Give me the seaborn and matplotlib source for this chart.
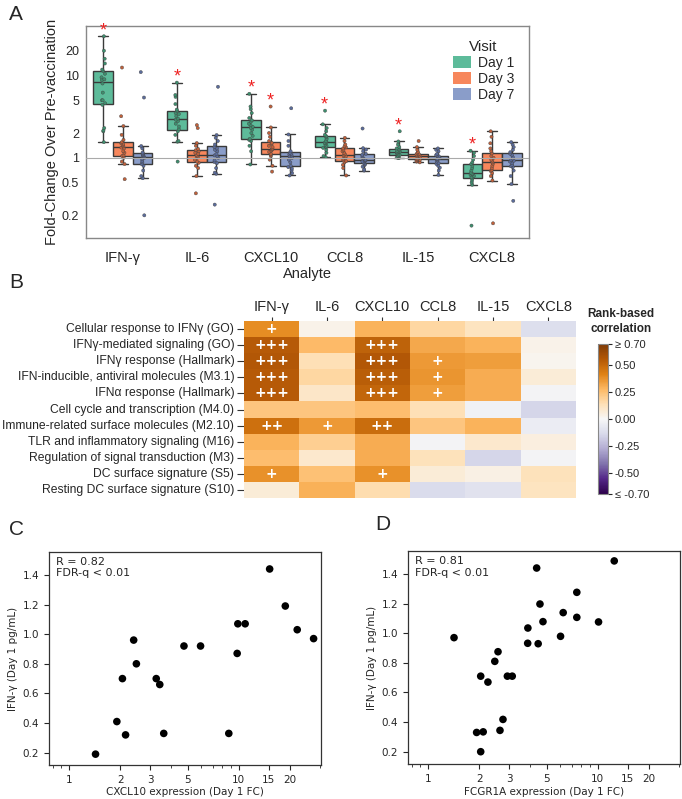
import numpy as np
import pandas as pd
import matplotlib.pyplot as plt
import seaborn as sns
from matplotlib.patches import Patch
from matplotlib.ticker import FixedLocator, FixedFormatter, NullLocator

# ---------------- Panel A: fold-change per subject ----------------
analytes = ["IFN-γ", "IL-6", "CXCL10", "CCL8", "IL-15", "CXCL8"]
visits = ["Day 1", "Day 3", "Day 7"]

ifng_d1 = [1.55, 2.1, 2.15, 2.3, 4.4, 4.6, 5.0, 5.0, 6.2, 8.0, 8.8, 9.0, 9.5, 10.5, 11.4, 11.8, 14.0, 16.0, 20.0, 30.0]
ifng_d3 = [0.55, 0.84, 0.9, 1.0, 1.05, 1.07, 1.15, 1.2, 1.3, 1.33, 1.38, 1.42, 1.48, 1.5, 1.55, 1.65, 1.9, 2.43, 3.2, 12.5]
ifng_d7 = [0.2, 0.565, 0.6, 0.7, 0.8, 0.84, 0.88, 0.92, 0.97, 1.0, 1.04, 1.06, 1.08, 1.1, 1.13, 1.16, 1.3, 1.39, 5.4, 11.0]
il6_d1 = [0.9, 1.57, 1.6, 1.9, 2.1, 2.22, 2.4, 2.6, 2.8, 2.9, 3.0, 3.2, 3.4, 3.5, 3.7, 3.85, 4.5, 5.5, 5.8, 8.2]
il6_d3 = [0.37, 0.6, 0.75, 0.8, 0.87, 0.9, 0.95, 1.0, 1.03, 1.05, 1.09, 1.12, 1.15, 1.2, 1.24, 1.28, 1.4, 1.51, 2.3, 2.5]
il6_d7 = [0.27, 0.64, 0.66, 0.75, 0.86, 0.89, 0.93, 1.0, 1.05, 1.07, 1.11, 1.2, 1.25, 1.3, 1.35, 1.45, 1.6, 1.75, 1.89, 7.3]
cxcl10_d1 = [0.83, 1.2, 1.4, 1.6, 1.65, 1.7, 1.85, 2.0, 2.2, 2.3, 2.38, 2.5, 2.6, 2.75, 2.85, 3.05, 3.5, 3.9, 4.2, 6.0]
cxcl10_d3 = [0.68, 0.8, 0.95, 1.05, 1.09, 1.12, 1.18, 1.22, 1.25, 1.28, 1.3, 1.35, 1.4, 1.48, 1.52, 1.6, 1.8, 2.0, 2.34, 4.2]
cxcl10_d7 = [0.61, 0.65, 0.7, 0.74, 0.77, 0.8, 0.88, 0.95, 1.0, 1.03, 1.05, 1.07, 1.1, 1.12, 1.15, 1.2, 1.4, 1.6, 1.92, 4.0]
ccl8_d1 = [1.02, 1.05, 1.15, 1.25, 1.32, 1.35, 1.4, 1.45, 1.5, 1.53, 1.57, 1.6, 1.7, 1.78, 1.83, 1.9, 2.1, 2.3, 2.55, 3.74]
ccl8_d3 = [0.61, 0.75, 0.82, 0.88, 0.91, 0.93, 0.97, 1.0, 1.04, 1.07, 1.11, 1.15, 1.2, 1.25, 1.3, 1.34, 1.38, 1.45, 1.6, 1.75]
ccl8_d7 = [0.7, 0.72, 0.78, 0.82, 0.84, 0.86, 0.88, 0.9, 0.92, 0.93, 0.95, 0.98, 1.0, 1.05, 1.09, 1.12, 1.2, 1.26, 1.31, 2.27]
il15_d1 = [0.99, 1.0, 1.02, 1.05, 1.06, 1.08, 1.1, 1.13, 1.15, 1.17, 1.19, 1.2, 1.22, 1.25, 1.28, 1.3, 1.35, 1.45, 1.58, 2.1]
il15_d3 = [0.88, 0.9, 0.92, 0.94, 0.95, 0.96, 0.98, 1.0, 1.02, 1.04, 1.06, 1.07, 1.08, 1.1, 1.11, 1.14, 1.18, 1.25, 1.35, 1.6]
il15_d7 = [0.62, 0.7, 0.76, 0.8, 0.84, 0.86, 0.9, 0.93, 0.96, 0.97, 0.99, 1.0, 1.02, 1.04, 1.06, 1.08, 1.12, 1.2, 1.25, 1.3]
cxcl8_d1 = [0.15, 0.47, 0.5, 0.53, 0.56, 0.58, 0.6, 0.62, 0.63, 0.64, 0.66, 0.7, 0.75, 0.8, 0.84, 0.88, 0.95, 1.05, 1.15, 1.22]
cxcl8_d3 = [0.16, 0.53, 0.6, 0.65, 0.69, 0.71, 0.75, 0.8, 0.85, 0.88, 0.92, 0.95, 1.0, 1.05, 1.13, 1.2, 1.3, 1.5, 1.8, 2.1]
cxcl8_d7 = [0.3, 0.48, 0.6, 0.7, 0.77, 0.79, 0.82, 0.86, 0.9, 0.92, 0.94, 0.98, 1.02, 1.08, 1.12, 1.17, 1.25, 1.35, 1.45, 1.55]

groups = {
    ("IFN-γ", "Day 1"): ifng_d1, ("IFN-γ", "Day 3"): ifng_d3, ("IFN-γ", "Day 7"): ifng_d7,
    ("IL-6", "Day 1"): il6_d1, ("IL-6", "Day 3"): il6_d3, ("IL-6", "Day 7"): il6_d7,
    ("CXCL10", "Day 1"): cxcl10_d1, ("CXCL10", "Day 3"): cxcl10_d3, ("CXCL10", "Day 7"): cxcl10_d7,
    ("CCL8", "Day 1"): ccl8_d1, ("CCL8", "Day 3"): ccl8_d3, ("CCL8", "Day 7"): ccl8_d7,
    ("IL-15", "Day 1"): il15_d1, ("IL-15", "Day 3"): il15_d3, ("IL-15", "Day 7"): il15_d7,
    ("CXCL8", "Day 1"): cxcl8_d1, ("CXCL8", "Day 3"): cxcl8_d3, ("CXCL8", "Day 7"): cxcl8_d7,
}
# groups significantly different from pre-vaccination
significant = [("IFN-γ", "Day 1"), ("IL-6", "Day 1"), ("CXCL10", "Day 1"), ("CXCL10", "Day 3"),
               ("CCL8", "Day 1"), ("IL-15", "Day 1"), ("CXCL8", "Day 1")]

df_fc = pd.DataFrame(
    [(a, v, fc) for (a, v), vals in groups.items() for fc in vals],
    columns=["Analyte", "Visit", "FC"],
)

# ---------------- Panel B: rank-based correlations ----------------
modules = [
    "Cellular response to IFNγ (GO)",
    "IFNγ-mediated signaling (GO)",
    "IFNγ response (Hallmark)",
    "IFN-inducible, antiviral molecules (M3.1)",
    "IFNα response (Hallmark)",
    "Cell cycle and transcription (M4.0)",
    "Immune-related surface molecules (M2.10)",
    "TLR and inflammatory signaling (M16)",
    "Regulation of signal transduction (M3)",
    "DC surface signature (S5)",
    "Resting DC surface signature (S10)",
]
corr_ifng = [0.39, 0.55, 0.56, 0.55, 0.55, 0.23, 0.48, 0.29, 0.26, 0.38, 0.07]
corr_il6 = [0.03, 0.27, 0.14, 0.17, 0.10, 0.23, 0.36, 0.20, 0.09, 0.25, 0.30]
corr_cxcl10 = [0.29, 0.52, 0.56, 0.54, 0.51, 0.26, 0.49, 0.31, 0.31, 0.38, 0.15]
corr_ccl8 = [0.17, 0.32, 0.36, 0.37, 0.35, 0.14, 0.23, -0.02, 0.13, 0.07, -0.13]
corr_il15 = [0.12, 0.29, 0.35, 0.31, 0.31, -0.03, 0.29, 0.09, -0.15, 0.04, -0.10]
corr_cxcl8 = [-0.12, 0.03, 0.02, 0.07, -0.02, -0.15, -0.05, 0.05, -0.02, 0.13, 0.12]
fdr_marks = [
    ["+", "", "", "", "", ""],
    ["+++", "", "+++", "", "", ""],
    ["+++", "", "+++", "+", "", ""],
    ["+++", "", "+++", "+", "", ""],
    ["+++", "", "+++", "+", "", ""],
    ["", "", "", "", "", ""],
    ["++", "+", "++", "", "", ""],
    ["", "", "", "", "", ""],
    ["", "", "", "", "", ""],
    ["+", "", "+", "", "", ""],
    ["", "", "", "", "", ""],
]
df_corr = pd.DataFrame(
    {"IFN-γ": corr_ifng, "IL-6": corr_il6, "CXCL10": corr_cxcl10,
     "CCL8": corr_ccl8, "IL-15": corr_il15, "CXCL8": corr_cxcl8},
    index=modules,
)

# ---------------- Panels C / D: Day 1 scatter ----------------
cxcl10_fc = [1.43, 1.91, 2.15, 2.06, 2.40, 2.49, 3.26, 3.42, 3.61, 4.75, 5.95, 8.73, 9.78, 9.87, 10.9, 15.2, 18.8, 22.1, 27.6]
ifng_c = [0.19, 0.41, 0.32, 0.70, 0.96, 0.80, 0.70, 0.66, 0.33, 0.92, 0.92, 0.33, 0.87, 1.07, 1.07, 1.44, 1.19, 1.03, 0.97]
fcgr1a_fc = [1.42, 2.04, 2.25, 2.47, 2.58, 2.93, 3.13, 1.93, 2.11, 2.04, 2.65, 2.76, 3.86, 3.87, 4.36, 4.56, 4.75, 4.45, 6.03, 6.25, 7.52, 7.52, 10.1, 12.5]
ifng_d = [0.97, 0.71, 0.67, 0.81, 0.875, 0.71, 0.71, 0.33, 0.334, 0.20, 0.344, 0.418, 0.932, 1.035, 1.44, 1.197, 1.078, 0.929, 0.979, 1.139, 1.276, 1.107, 1.076, 1.488]

# ---------------- figure ----------------
sns.set_style("white")
plt.rcParams["font.family"] = ["Liberation Sans", "DejaVu Sans"]

fig = plt.figure(figsize=(6.82, 7.99), dpi=100)
box_colors = ["#5dbb9a", "#f7875c", "#8a9dc9"]
dot_colors = ["#3d8f6e", "#c0603a", "#5b6c9c"]

# ----- A -----
axA = fig.add_axes([0.1261, 0.7021, 0.6496, 0.2654])
sns.boxplot(data=df_fc, x="Analyte", y="FC", hue="Visit", order=analytes, hue_order=visits,
            palette=box_colors, saturation=1, showfliers=False, log_scale=True,
            linecolor="#3a3a3a", linewidth=1, legend=False, ax=axA)
sns.stripplot(data=df_fc, x="Analyte", y="FC", hue="Visit", order=analytes, hue_order=visits,
              palette=dot_colors, dodge=True, jitter=0.08, size=2.3, linewidth=0.3,
              edgecolor="#444444", legend=False, ax=axA)
axA.axhline(1, color="#aaaaaa", lw=0.8, zorder=5)

for a, v in significant:
    xpos = analytes.index(a) + (visits.index(v) - 1) * 0.8 / 3
    axA.annotate("*", (xpos, max(groups[(a, v)])), xytext=(0, -2), textcoords="offset points",
                 ha="center", va="bottom", color="#ee2222", fontsize=13)

axA.set_ylim(0.106, 40)
axA.set_xlim(-0.5, 5.5)
axA.yaxis.set_major_locator(FixedLocator([0.2, 0.5, 1, 2, 5, 10, 20]))
axA.yaxis.set_major_formatter(FixedFormatter(["0.2", "0.5", "1", "2", "5", "10", "20"]))
axA.yaxis.set_minor_locator(NullLocator())
axA.tick_params(axis="y", labelsize=9, length=3, color="#888888", pad=2)
axA.tick_params(axis="x", labelsize=10.5, length=3, color="#888888", pad=6)
axA.set_ylabel("Fold-Change Over Pre-vaccination", fontsize=10.5, labelpad=2)
axA.set_xlabel("Analyte", fontsize=10.5, labelpad=2)
for s in axA.spines.values():
    s.set_color("#888888")
    s.set_linewidth(1)
handles = [Patch(facecolor=c, edgecolor="none") for c in box_colors]
axA.legend(handles, visits, title="Visit", frameon=False, loc="upper right",
           bbox_to_anchor=(0.995, 0.995), fontsize=10, title_fontsize=11,
           handlelength=1.3, handleheight=0.9, handletextpad=0.5, labelspacing=0.15)

# ----- B -----
axB = fig.add_axes([0.3578, 0.3767, 0.4868, 0.2215])
cax = fig.add_axes([0.8768, 0.3817, 0.0147, 0.1877])
sns.heatmap(df_corr, cmap="PuOr_r", vmin=-0.7, vmax=0.7, annot=np.array(fdr_marks), fmt="",
            annot_kws={"color": "white", "fontsize": 10, "fontweight": "bold", "family": "DejaVu Sans"},
            cbar_ax=cax, ax=axB)
axB.xaxis.tick_top()
axB.tick_params(axis="x", labelsize=10.5, length=3, pad=2, rotation=0)
axB.tick_params(axis="y", labelsize=8.7, length=5, pad=2, rotation=0)
axB.tick_params(axis="both", which="major", left=True, top=True, color="#333333", width=0.8)
cb = axB.collections[0].colorbar
cb.set_ticks([0.7, 0.5, 0.25, 0, -0.25, -0.5, -0.7])
cb.set_ticklabels(["≥ 0.70", "0.50", "0.25", "0.00", "-0.25", "-0.50", "≤ -0.70"])
cax.tick_params(labelsize=8, length=3, pad=2)
cb.outline.set_edgecolor("#888888")
cb.outline.set_linewidth(0.8)
fig.text(0.911, 0.598, "Rank-based\ncorrelation", ha="center", va="center",
         fontsize=8.5, fontweight="bold", linespacing=1.3)

# ----- C / D -----
scatter_panels = [
    ([0.0718, 0.0426, 0.3988, 0.2666], cxcl10_fc, ifng_c, "CXCL10 expression (Day 1 FC)", "R = 0.82\nFDR-q < 0.01"),
    ([0.5982, 0.0438, 0.3988, 0.2666], fcgr1a_fc, ifng_d, "FCGR1A expression (Day 1 FC)", "R = 0.81\nFDR-q < 0.01"),
]
for rect, xs, ys, xlab, stat in scatter_panels:
    ax = fig.add_axes(rect)
    sns.scatterplot(x=xs, y=ys, color="black", s=30, edgecolor="none", ax=ax)
    ax.set_xscale("log")
    ax.set_xlim(0.76, 30.5)
    ax.set_ylim(0.117, 1.555)
    ax.xaxis.set_major_locator(FixedLocator([1, 2, 3, 5, 10, 15, 20]))
    ax.xaxis.set_major_formatter(FixedFormatter(["1", "2", "3", "5", "10", "15", "20"]))
    ax.set_yticks([0.2, 0.4, 0.6, 0.8, 1.0, 1.2, 1.4])
    ax.set_yticklabels(["0.2", "0.4", "0.6", "0.8", "1.0", "1.2", "1.4"])
    for lab in ax.get_xticklabels() + ax.get_yticklabels():
        lab.set_family("DejaVu Sans")
    ax.tick_params(axis="both", which="major", labelsize=7.5, length=3.5, left=True, bottom=True)
    ax.tick_params(axis="x", which="minor", length=2, bottom=True)
    ax.set_xlabel(xlab, fontsize=7.5, family="DejaVu Sans", labelpad=2)
    ax.set_ylabel("IFN-γ (Day 1 pg/mL)", fontsize=7.5, family="DejaVu Sans", labelpad=3)
    ax.text(0.025, 0.975, stat, transform=ax.transAxes, ha="left", va="top",
            fontsize=8, family="DejaVu Sans", linespacing=1.15)
    for s in ax.spines.values():
        s.set_color("#333333")
        s.set_linewidth(0.9)

# panel letters
for letter, x, y in [("A", 0.013, 0.982), ("B", 0.013, 0.646), ("C", 0.013, 0.337), ("D", 0.55, 0.343)]:
    fig.text(x, y, letter, fontsize=15, ha="left", va="center")

fig.savefig("out.png", dpi=100, facecolor="white")
